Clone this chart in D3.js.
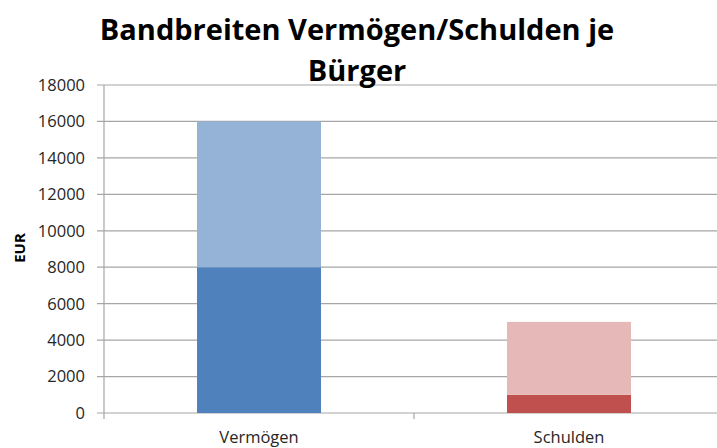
<!DOCTYPE html>
<html>
<head>
<meta charset="utf-8">
<script src="https://cdn.jsdelivr.net/npm/d3@7"></script>
<style>
  body { margin: 0; background: #fff; }
  text { font-family: "Open Sans", sans-serif; }
</style>
</head>
<body>
<div id="chart"></div>
<script>
// chart values
const categories = ["Vermögen", "Schulden"];
const lowerValues = [8000, 1000];
const upperValues = [8000, 4000];
const yTicks = [0, 2000, 4000, 6000, 8000, 10000, 12000, 14000, 16000, 18000];
const titleLines = ["Bandbreiten Vermögen/Schulden je", "Bürger"];
const yLabel = "EUR";

const width = 717, height = 448;
const margin = {left: 104, right: -7, top: 85, bottom: 35};

const lowerColors = ["#4f81bd", "#c0504d"];
const upperColors = ["#95b3d7", "#e6b9b8"];

const svg = d3.select("#chart").append("svg")
  .attr("width", width).attr("height", height);

const x = d3.scaleBand()
  .domain(categories)
  .range([margin.left, width - margin.right])
  .paddingInner(0).paddingOuter(0);

const y = d3.scaleLinear()
  .domain([0, 18000])
  .range([height - margin.bottom, margin.top]);

// gridlines
svg.append("g").selectAll("line").data(yTicks).join("line")
  .attr("x1", margin.left - 7).attr("x2", width - margin.right)
  .attr("y1", d => y(d)).attr("y2", d => y(d))
  .attr("stroke", "#a6a6a6").attr("stroke-width", 1.2);

// y axis line
svg.append("line")
  .attr("x1", margin.left).attr("x2", margin.left)
  .attr("y1", y(18000)).attr("y2", y(0) + 6)
  .attr("stroke", "#a6a6a6").attr("stroke-width", 1.2);

// category separator ticks
svg.append("g").selectAll("line").data(categories.slice(1)).join("line")
  .attr("x1", d => x(d)).attr("x2", d => x(d))
  .attr("y1", y(0)).attr("y2", y(0) + 6)
  .attr("stroke", "#a6a6a6").attr("stroke-width", 1.2);

// y tick labels
svg.append("g").selectAll("text").data(yTicks).join("text")
  .attr("x", margin.left - 19).attr("y", d => y(d))
  .attr("dy", "0.36em")
  .attr("text-anchor", "end")
  .attr("font-size", 16.5).attr("fill", "#262626")
  .text(d => d);

const barW = x.bandwidth() * 0.4;

// stacked bars
svg.append("g").selectAll("rect.lower").data(categories).join("rect")
  .attr("class", "lower")
  .attr("x", d => x(d) + (x.bandwidth() - barW) / 2)
  .attr("width", barW)
  .attr("y", (d, i) => y(lowerValues[i]))
  .attr("height", (d, i) => y(0) - y(lowerValues[i]))
  .attr("fill", (d, i) => lowerColors[i]);

svg.append("g").selectAll("rect.upper").data(categories).join("rect")
  .attr("class", "upper")
  .attr("x", d => x(d) + (x.bandwidth() - barW) / 2)
  .attr("width", barW)
  .attr("y", (d, i) => y(lowerValues[i] + upperValues[i]))
  .attr("height", (d, i) => y(lowerValues[i]) - y(lowerValues[i] + upperValues[i]))
  .attr("fill", (d, i) => upperColors[i]);

// category labels
svg.append("g").selectAll("text").data(categories).join("text")
  .attr("x", d => x(d) + x.bandwidth() / 2)
  .attr("y", 443)
  .attr("text-anchor", "middle")
  .attr("font-size", 16.5).attr("fill", "#262626")
  .text(d => d);

// title
svg.append("g").selectAll("text").data(titleLines).join("text")
  .attr("x", 357).attr("y", (d, i) => 40 + i * 41)
  .attr("text-anchor", "middle")
  .attr("font-size", 29).attr("font-weight", "bold")
  .text(d => d);

// y label
svg.append("text")
  .attr("transform", "translate(25,248) rotate(-90)")
  .attr("text-anchor", "middle")
  .attr("font-size", 15).attr("font-weight", "bold")
  .text(yLabel);
</script>
</body>
</html>
